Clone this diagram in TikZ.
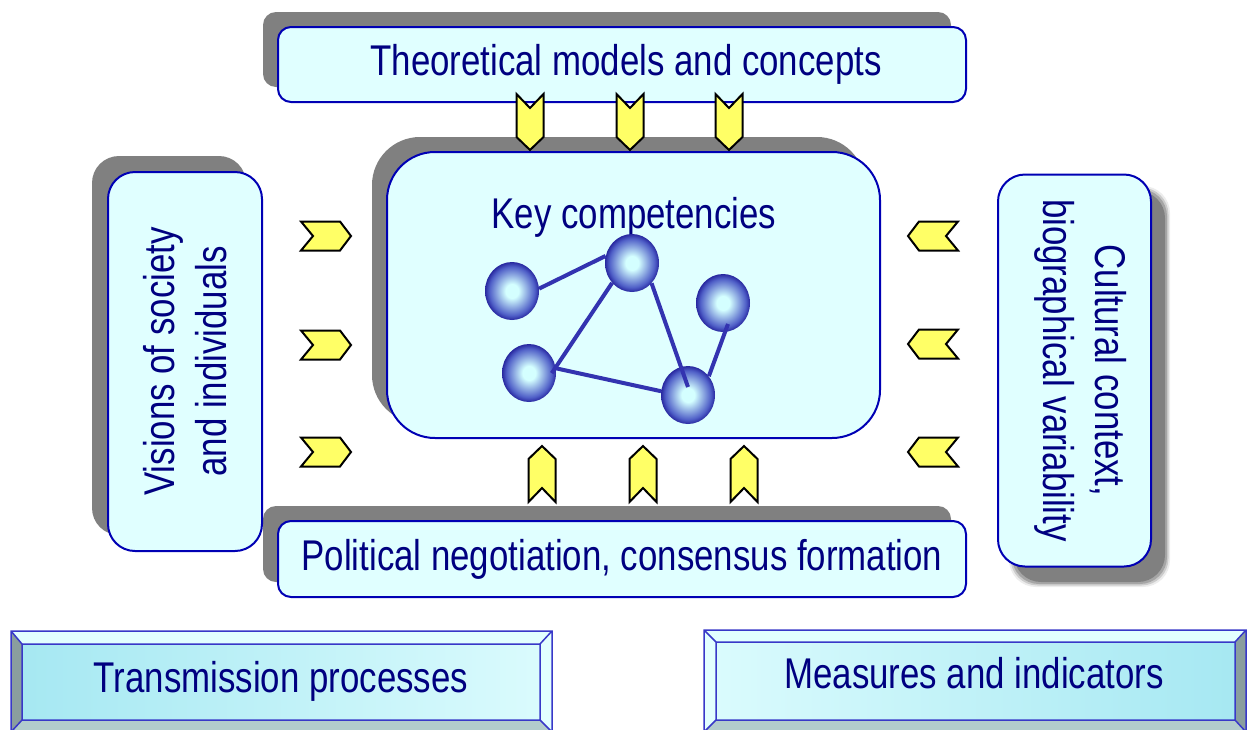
\documentclass[tikz,border=0pt]{standalone}
\usepackage{fontspec}
\setmainfont[FakeStretch=0.81]{Liberation Sans}
\usetikzlibrary{shapes.geometric}

\definecolor{cardfill}{HTML}{E0FFFF}
\definecolor{cardline}{HTML}{0000B4}
\definecolor{shadowgray}{HTML}{808080}
\definecolor{ink}{HTML}{000080}
\definecolor{chevfill}{HTML}{FFFF66}
\definecolor{linkblue}{HTML}{3333B0}
\definecolor{orbcore}{HTML}{D4FFFF}
\definecolor{orbmid}{HTML}{5060C8}
\definecolor{orbrim}{HTML}{2828A0}
\definecolor{bevlight}{HTML}{E2FFFF}
\definecolor{bevdark}{HTML}{8A9E9E}
\definecolor{bevlow}{HTML}{B2CCCC}
\definecolor{panelA}{HTML}{A6E8F2}
\definecolor{panelB}{HTML}{DAFBFD}
\definecolor{bevedge}{HTML}{3838C8}

\pgfdeclareradialshading{orb}{\pgfpoint{0bp}{0bp}}{color(0bp)=(orbcore); color(6bp)=(orbcore); color(21bp)=(orbmid); color(25bp)=(orbrim); color(50bp)=(orbrim)}

\newcommand\cardfont{\fontsize{43}{52}\selectfont}

\tikzset{
  card/.style={draw=cardline, line width=2pt, fill=cardfill, rounded corners=#1,
    inner sep=0pt, text=ink, font=\cardfont},
  txt/.style={text=ink, font=\cardfont, inner sep=0pt},
  orbnode/.style={ellipse, minimum width=54pt, minimum height=58pt, inner sep=0pt, shading=orb},
  link/.style={draw=linkblue, line width=4pt},
  chevron/.style={fill=chevfill, draw=black, line width=2pt, line join=miter},
  % long chevron (above and below the core), drawn pointing down
  chevlong/.pic={\path[chevron] (-13.5,-28) -- (0,-14) -- (13.5,-28) -- (13.5,15) -- (0,28) -- (-13.5,15) -- cycle;},
  % short chevron (left and right of the core), drawn pointing down
  chevshort/.pic={\path[chevron] (-14.5,-25) -- (0,-13) -- (14.5,-25) -- (14.5,14) -- (0,25) -- (-14.5,14) -- cycle;},
  bevline/.style={draw=bevedge, line width=1.5pt}
}

\begin{document}
\begin{tikzpicture}[x=1pt,y=-1pt]
\useasboundingbox (0,0) rectangle (1251,729);
\clip (0,0) rectangle (1251,729);

% drop shadows behind the cards
\fill[shadowgray, rounded corners=13] (263,12) rectangle (951,87);
\fill[shadowgray, rounded corners=48] (372,137) rectangle (865,423);
\fill[shadowgray, rounded corners=27] (92,156) rectangle (246,535);
\fill[shadowgray, rounded corners=13] (263,506) rectangle (951,582);
\foreach \d/\o in {4/0.15,2.5/0.3,1/0.5}
  \fill[shadowgray, opacity=\o, rounded corners=27] (1013-\d,190-\d) rectangle (1166+\d,583+\d);
\fill[shadowgray, rounded corners=27] (1014,191) rectangle (1165,582);

% cards
\node[card=13, minimum width=688pt, minimum height=75pt] (theory) at (622,64.5) {\hspace*{8pt}Theoretical models and concepts};
\node[card=48, minimum width=493pt, minimum height=286pt] (core) at (633.5,295) {};
\node[card=27, rotate=90, minimum width=379pt, minimum height=154pt, align=center] (visions) at (185,361.5) {Visions of society\\and individuals};
\node[card=27, rotate=-90, minimum width=392pt, minimum height=153pt, align=center, text depth=22pt] (culture) at (1074.5,370.5) {Cultural context,\\biographical variability};
\node[card=13, minimum width=688pt, minimum height=76pt] (politics) at (622,559) {Political negotiation, consensus formation};

% network of competencies
\node[txt, anchor=base] (keytitle) at (634,228) {Key competencies};
\node[orbnode] (s1) at (512,291) {};
\node[orbnode] (s2) at (632,263) {};
\node[orbnode] (s3) at (723,303) {};
\node[orbnode] (s4) at (529,373) {};
\node[orbnode] (s5) at (688,395) {};
\draw[link] (s1.5) -- (s2.165);
\draw[link, shorten >=-7pt] (s2.225) -- (s4.12);
\draw[link] (s4.10) -- (s5.172);
\draw[link] (s2.314) -- ([yshift=8pt]s5.center);
\draw[link] (s5.42) -- ([xshift=5pt,yshift=-21pt]s3.center);

% influence chevrons
\foreach \x in {530,630,729} \pic at (\x,122) {chevlong};
\foreach \x in {542,643,744} \pic[rotate=180] at (\x,474) {chevlong};
\foreach \y in {236,345,452} \pic[rotate=90] at (326,\y) {chevshort};
\foreach \y in {236,344,452} \pic[rotate=-90] at (933,\y) {chevshort};

% bevelled panel, left
\fill[bevlight] (11,631) -- (552,631) -- (540,644) -- (22,644) -- cycle;
\fill[bevdark] (11,631) -- (22,644) -- (22,720) -- (11,732) -- cycle;
\fill[bevlow] (22,720) -- (540,720) -- (552,732) -- (11,732) -- cycle;
\fill[bevlight] (552,631) -- (552,732) -- (540,720) -- (540,644) -- cycle;
\shade[left color=panelA, right color=panelB] (22,644) rectangle (540,720);
\draw[bevline] (11,631) rectangle (552,732) (22,644) rectangle (540,720)
  (11,631) -- (22,644) (552,631) -- (540,644) (11,732) -- (22,720) (552,732) -- (540,720);
\node[txt, anchor=base] (transmission) at (281,692) {Transmission processes};

% bevelled panel, right
\fill[bevlight] (704,630) -- (1246,630) -- (1235,642) -- (716,642) -- cycle;
\fill[bevlight] (704,630) -- (716,642) -- (716,720) -- (704,732) -- cycle;
\fill[bevlow] (716,720) -- (1235,720) -- (1246,732) -- (704,732) -- cycle;
\fill[bevdark] (1246,630) -- (1246,732) -- (1235,720) -- (1235,642) -- cycle;
\shade[left color=panelB, right color=panelA] (716,642) rectangle (1235,720);
\draw[bevline] (704,630) rectangle (1246,732) (716,642) rectangle (1235,720)
  (704,630) -- (716,642) (1246,630) -- (1235,642) (704,732) -- (716,720) (1246,732) -- (1235,720);
\node[txt, anchor=base] (measures) at (974,688) {Measures and indicators};
\end{tikzpicture}
\end{document}
